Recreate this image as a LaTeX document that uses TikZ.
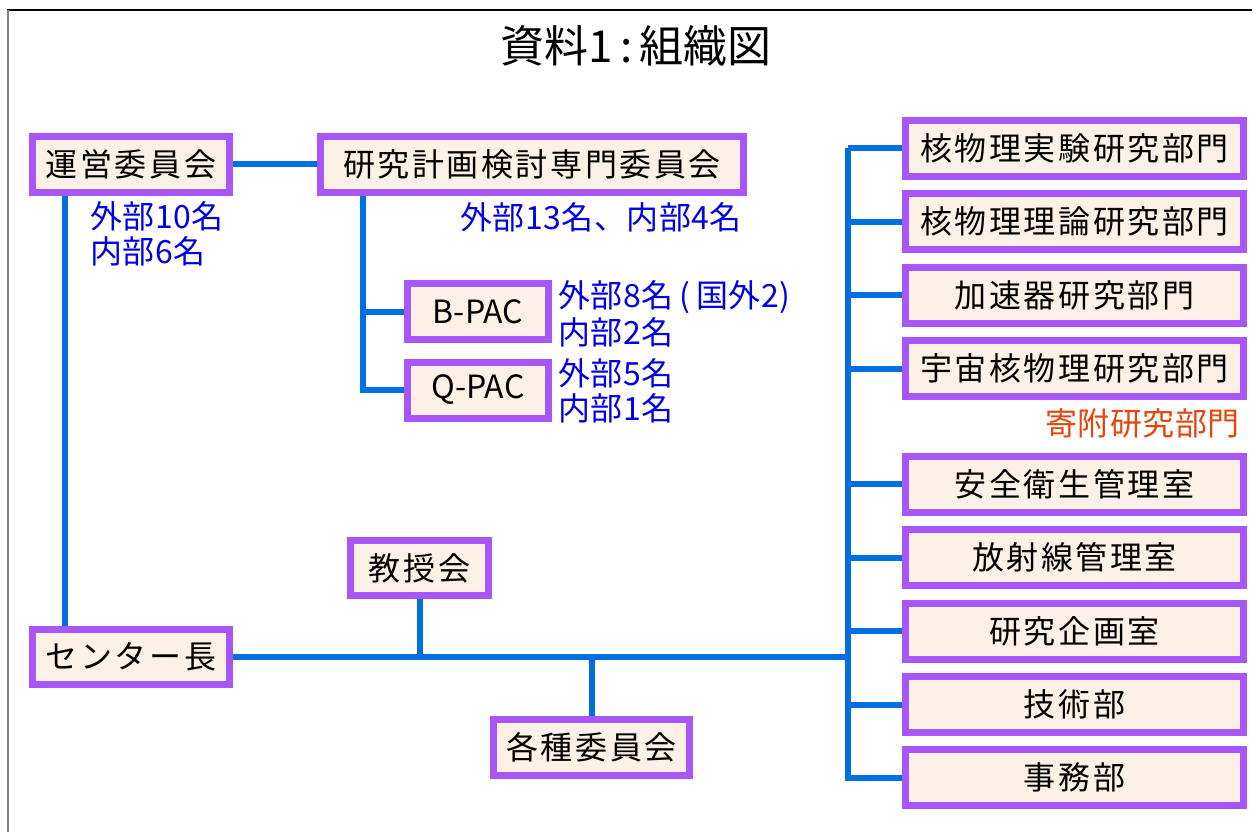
\documentclass[tikz,border=0pt]{standalone}
\usepackage{fontspec}
\setmainfont{Noto Sans CJK JP}
\newfontfamily\boxfont[LetterSpace=8]{Noto Sans CJK JP}
\newfontfamily\notefont[LetterSpace=1.5]{Noto Sans CJK JP}
\usetikzlibrary{backgrounds}
\definecolor{boxpurple}{RGB}{168,86,250}
\definecolor{boxfill}{RGB}{253,240,228}
\definecolor{wireblue}{RGB}{0,112,224}
\definecolor{noteblue}{RGB}{0,0,225}
\definecolor{notered}{RGB}{228,70,12}
\begin{document}
\begin{tikzpicture}[x=1pt,y=-1pt,
  box/.style={draw=boxpurple, line width=7pt, fill=boxfill, inner sep=0pt,
    font=\boxfont\fontsize{32}{36}\selectfont, text=black, minimum height=56},
  latinbox/.style={box, font=\rmfamily\fontsize{32}{36}\selectfont},
  rbox/.style={box, minimum width=338},
  wire/.style={draw=wireblue, line width=6pt},
  note/.style={text=noteblue, font=\notefont\fontsize{32}{34}\selectfont, anchor=west, inner sep=0pt},
  rednote/.style={note, text=notered, anchor=east}]
\useasboundingbox (0,0) rectangle (1256,832);
\draw[black, line width=1.5pt] (7,10) -- (1252,10);
\draw[gray, line width=2pt] (7.5,10) -- (7.5,832);

\node[font=\fontsize{44}{48}\selectfont] (title) at (636,46) {資料1\,:\,組織図};

\node[box, minimum width=197] (unei) at (131,164.5) {運営委員会};
\node[box, minimum width=423] (kenkyu) at (532,164.5) {研究計画検討専門委員会};
\node[latinbox, minimum width=141] (bpac) at (478,311.5) {B-PAC};
\node[latinbox, minimum width=141] (qpac) at (478,390) {Q-PAC};
\node[box, minimum width=138, minimum height=55] (kyoju) at (419.5,568) {教授会};
\node[box, minimum width=197, minimum height=55] (chief) at (131,657) {センター長};
\node[box, minimum width=196] (kakushu) at (591.5,747.5) {各種委員会};

\node[rbox] (r1) at (1074.5,148.5) {核物理実験研究部門};
\node[rbox] (r2) at (1074.5,221.5) {核物理理論研究部門};
\node[rbox] (r3) at (1074.5,295) {加速器研究部門};
\node[rbox] (r4) at (1074.5,368.5) {宇宙核物理研究部門};
\node[rbox] (r5) at (1074.5,484) {安全衛生管理室};
\node[rbox] (r6) at (1074.5,557.5) {放射線管理室};
\node[rbox] (r7) at (1074.5,631) {研究企画室};
\node[rbox] (r8) at (1074.5,704.5) {技術部};
\node[rbox] (r9) at (1074.5,777.5) {事務部};

\node[note] (n1a) at (90,216) {外部10名};
\node[note] (n1b) at (90,251) {内部6名};
\node[note] (n2) at (460,217) {外部13名、内部4名};
\node[note] (n3a) at (558,297) {外部8名\hspace{6pt}(\hspace{6pt}国外2)};
\node[note] (n3b) at (558,332) {内部2名};
\node[note] (n4a) at (558,373) {外部5名};
\node[note] (n4b) at (558,408) {内部1名};
\node[rednote] (kifu) at (1240,423) {寄附研究部門};

\coordinate (uX) at (65,0);
\coordinate (kX) at (363,0);
\coordinate (rX) at (848,0);

\begin{scope}[on background layer]
\draw[wire] (unei) -- (kenkyu);
\draw[wire] (uX |- unei.south) -- (uX |- chief.north);
\draw[wire] (kX |- kenkyu.south) |- (qpac.west);
\draw[wire] (kX |- bpac.west) -- (bpac.west);
\draw[wire] (chief.east) -- (rX |- chief.east);
\draw[wire] (kyoju.south) -- (kyoju.south |- chief.east);
\draw[wire] (kakushu.north |- chief.east) -- (kakushu.north);
\draw[wire] (rX |- r1.west) -- (rX |- r9.west) -- (r9.west);
\foreach \i in {1,...,8} {\draw[wire] (rX |- r\i.west) -- (r\i.west);}
\end{scope}
\end{tikzpicture}
\end{document}
